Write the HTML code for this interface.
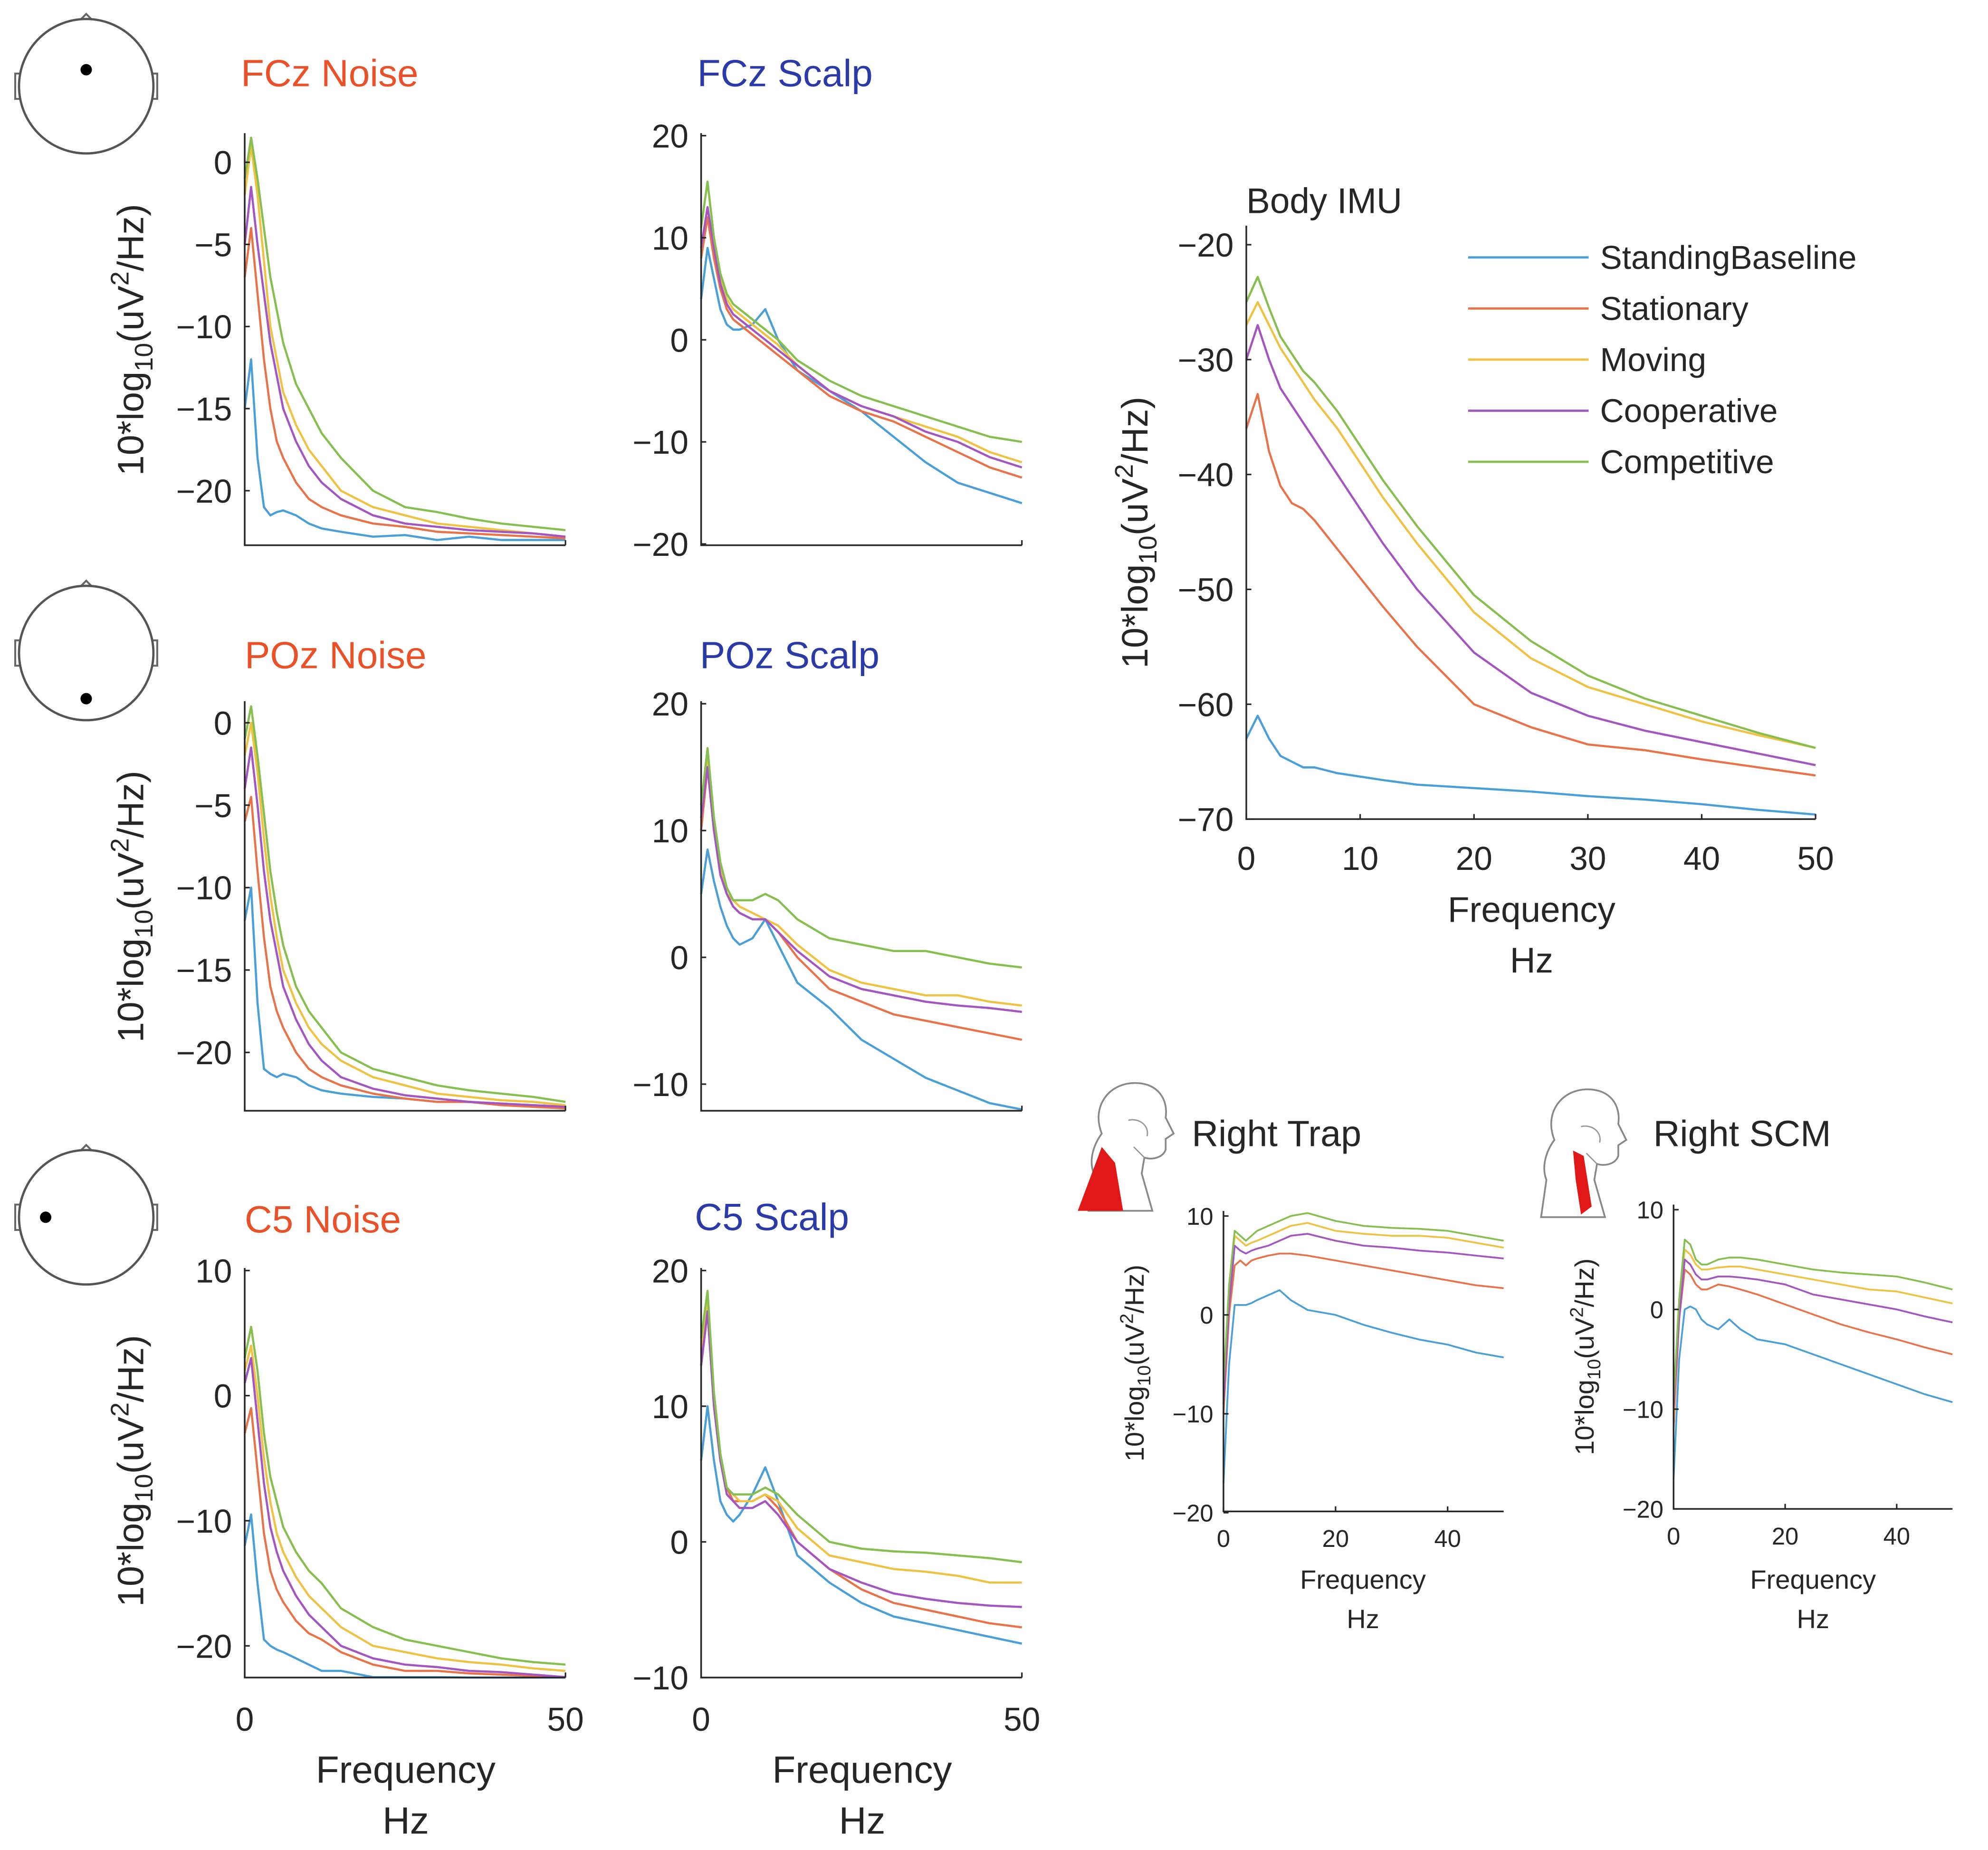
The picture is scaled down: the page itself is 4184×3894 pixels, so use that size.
<!DOCTYPE html>
<html><head><meta charset="utf-8">
<style>
html,body{margin:0;padding:0;background:#fff;}
svg{display:block;}
text{font-family:"Liberation Sans",Arial,sans-serif;fill:#262626;}
</style></head>
<body>
<svg id="fig" width="4184" height="3894" viewBox="0 0 1568 1459" preserveAspectRatio="none" xmlns="http://www.w3.org/2000/svg"></svg>
<script>
// ---- shared data ----
const freqs = [0,1,2,3,4,5,6,8,10,12,15,20,25,30,35,40,45,50];
const conditions = ["StandingBaseline","Stationary","Moving","Cooperative","Competitive"];
const colors = ["#4a9fd8","#e8734a","#efc244","#a356bf","#86bf4f"];

const fczNoiseBlue   = [-15,-12,-18,-21,-21.5,-21.3,-21.2,-21.5,-22,-22.3,-22.5,-22.8,-22.7,-23,-22.8,-23,-23,-23];
const fczNoiseOrange = [-7,-4,-8,-12,-15,-17,-18,-19.5,-20.5,-21,-21.5,-22,-22.2,-22.5,-22.6,-22.7,-22.8,-22.9];
const fczNoiseYellow = [-2,1,-2,-6,-10,-12,-14,-16,-17.5,-18.5,-20,-21,-21.5,-22,-22.2,-22.4,-22.6,-22.8];
const fczNoisePurple = [-5,-1.5,-5,-8,-11,-13,-15,-17,-18.5,-19.5,-20.5,-21.5,-22,-22.2,-22.4,-22.5,-22.6,-22.8];
const fczNoiseGreen  = [-1,1.5,-1,-4,-7,-9,-11,-13.5,-15,-16.5,-18,-20,-21,-21.3,-21.7,-22,-22.2,-22.4];

const fczScalpBlue   = [4,9,6,3,1.5,1,1,1.5,3,0,-3,-5,-7,-9.5,-12,-14,-15,-16];
const fczScalpOrange = [8,12,8,5,3,2,1.5,0.5,-0.5,-1.5,-3,-5.5,-7,-8,-9.5,-11,-12.5,-13.5];
const fczScalpYellow = [9,13,9,6,4,3,2.5,1.5,0.5,-0.5,-2.5,-5,-6.5,-7.5,-8.5,-9.5,-11,-12];
const fczScalpPurple = [9,13,9,5.5,3.5,2.5,2,1,0,-1,-2.5,-5,-6.5,-7.5,-9,-10,-11.5,-12.5];
const fczScalpGreen  = [11,15.5,10,6.5,4.5,3.5,3,2,1,0,-2,-4,-5.5,-6.5,-7.5,-8.5,-9.5,-10];

const pozNoiseBlue   = [-12,-10,-17,-21,-21.3,-21.5,-21.3,-21.5,-22,-22.3,-22.5,-22.7,-22.8,-23,-23,-23.2,-23.2,-23.3];
const pozNoiseOrange = [-6,-4.5,-9,-13,-16,-17.5,-18.5,-20,-21,-21.5,-22,-22.5,-22.8,-23,-23,-23.2,-23.3,-23.4];
const pozNoiseYellow = [-2,0,-3,-7,-10.5,-13,-15,-17,-18.5,-19.5,-20.5,-21.5,-22,-22.5,-22.7,-22.9,-23,-23.2];
const pozNoisePurple = [-4,-1.5,-5,-9,-12,-14,-16,-18,-19.5,-20.5,-21.5,-22.2,-22.6,-22.8,-23,-23.1,-23.2,-23.3];
const pozNoiseGreen  = [-1,1,-2,-5.5,-9,-11.5,-13.5,-16,-17.5,-18.5,-20,-21,-21.5,-22,-22.3,-22.5,-22.7,-23];

const pozScalpBlue   = [5,8.5,6,4,2.5,1.5,1,1.5,3,1,-2,-4,-6.5,-8,-9.5,-10.5,-11.5,-12];
const pozScalpOrange = [10,15,10,7,5,4,3.5,3,3,2,0,-2.5,-3.5,-4.5,-5,-5.5,-6,-6.5];
const pozScalpYellow = [12,15.5,10,7,5,4.5,4,3.5,3,2.5,1,-1,-2,-2.5,-3,-3,-3.5,-3.8];
const pozScalpPurple = [11,15,10,6.5,5,4,3.5,3,3,2,0.5,-1.5,-2.5,-3,-3.5,-3.8,-4,-4.3];
const pozScalpGreen  = [12,16.5,11,7.5,5.5,4.5,4.5,4.5,5,4.5,3,1.5,1,0.5,0.5,0,-0.5,-0.8];

const c5NoiseBlue   = [-12,-9.5,-15,-19.5,-20,-20.3,-20.5,-21,-21.5,-22,-22,-22.5,-22.5,-22.5,-22.6,-22.7,-22.8,-22.8];
const c5NoiseOrange = [-3,-1,-6,-11,-14,-15.5,-16.5,-18,-19,-19.5,-20.5,-21.5,-22,-22,-22.2,-22.3,-22.4,-22.5];
const c5NoiseYellow = [2,4,0,-5,-8.5,-11,-12.5,-14.5,-16,-17,-18.5,-20,-20.5,-21,-21.3,-21.5,-21.8,-22];
const c5NoisePurple = [1,3,-2,-7,-10.5,-12.5,-14,-16,-17.5,-18.5,-20,-21,-21.5,-21.7,-22,-22.1,-22.3,-22.5];
const c5NoiseGreen  = [3,5.5,2,-3,-6.5,-8.5,-10.5,-12.5,-14,-15,-17,-18.5,-19.5,-20,-20.5,-21,-21.3,-21.5];

const c5ScalpBlue   = [6,10,6,3,2,1.5,2,3.5,5.5,3,-1,-3,-4.5,-5.5,-6,-6.5,-7,-7.5];
const c5ScalpOrange = [13,17,10,6,4,3,3,3,3.5,2.5,0,-2,-3.5,-4.5,-5,-5.5,-6,-6.3];
const c5ScalpYellow = [14,18,10,6,4,3.5,3,3,3.5,3,1,-1,-1.5,-2,-2.2,-2.5,-3,-3];
const c5ScalpPurple = [13,17,10,6,3.5,3,2.5,2.5,3,2,0,-2,-3,-3.8,-4.2,-4.5,-4.7,-4.8];
const c5ScalpGreen  = [15,18.5,11,6.5,4,3.5,3.5,3.5,4,3.5,2,0,-0.5,-0.7,-0.8,-1,-1.2,-1.5];

const imuBlue   = [-63,-61,-63,-64.5,-65,-65.5,-65.5,-66,-66.3,-66.6,-67,-67.3,-67.6,-68,-68.3,-68.7,-69.2,-69.6];
const imuOrange = [-36,-33,-38,-41,-42.5,-43,-44,-46.5,-49,-51.5,-55,-60,-62,-63.5,-64,-64.8,-65.5,-66.2];
const imuYellow = [-27,-25,-27,-29,-30.5,-32,-33.5,-36,-39,-42,-46,-52,-56,-58.5,-60,-61.5,-62.7,-63.8];
const imuPurple = [-30,-27,-30,-32.5,-34,-35.5,-37,-40,-43,-46,-50,-55.5,-59,-61,-62.3,-63.3,-64.3,-65.3];
const imuGreen  = [-25,-22.8,-25.5,-28,-29.5,-31,-32,-34.5,-37.5,-40.5,-44.5,-50.5,-54.5,-57.5,-59.5,-61,-62.5,-63.8];

const trapBlue   = [-17,-5,1,1,1,1.2,1.5,2,2.5,1.5,0.5,0,-1,-1.8,-2.5,-3,-3.8,-4.3];
const trapOrange = [-10,0,5,5.5,5,5.5,5.7,6,6.2,6.2,6,5.5,5,4.5,4,3.5,3,2.7];
const trapYellow = [-8,2,8,7.5,7,7.3,7.5,8,8.5,9,9.3,8.5,8.2,8,8,7.8,7.3,6.8];
const trapPurple = [-9,1,7,6.5,6.2,6.5,6.7,7,7.5,8,8.2,7.5,7,6.8,6.5,6.3,6,5.7];
const trapGreen  = [-7,3,8.5,8,7.5,8,8.5,9,9.5,10,10.3,9.5,9,8.8,8.7,8.5,8,7.5];

const scmBlue   = [-17,-5,0,0.3,0,-1,-1.5,-2,-1,-2,-3,-3.5,-4.5,-5.5,-6.5,-7.5,-8.5,-9.3];
const scmOrange = [-12,-1,4,3.5,2.5,2,2,2.5,2.3,2,1.5,0.5,-0.5,-1.5,-2.3,-3,-3.8,-4.5];
const scmYellow = [-11,0,6,5.5,4.5,4,4,4.2,4.3,4.3,4,3.5,3,2.5,2,1.8,1.2,0.6];
const scmPurple = [-10,-1,5,4.5,3.5,3,3,3.3,3.3,3.2,3,2.5,1.5,1,0.5,0,-0.7,-1.3];
const scmGreen  = [-9,1,7,6.5,5,4.5,4.5,5,5.2,5.2,5,4.5,4,3.7,3.5,3.3,2.7,2];

const noiseTicks = [0,-5,-10,-15,-20];
const scalpTicks = [20,10,0,-10,-20];
const pozScalpTicks = [20,10,0,-10];
const c5NoiseTicks = [10,0,-10,-20];
const c5ScalpTicks = [20,10,0,-10];
const imuYTicks = [-20,-30,-40,-50,-60,-70];
const imuXTicks = [0,10,20,30,40,50];
const emgYTicks = [10,0,-10,-20];
const emgXTicks = [0,20,40];
const eegXTicks = [0,50];

// ---- drawing ----
const NS = "http://www.w3.org/2000/svg";
const svg = document.getElementById("fig");
function mk(tag, attrs, parent){
  const e = document.createElementNS(NS, tag);
  for (const k in attrs) e.setAttribute(k, attrs[k]);
  (parent||svg).appendChild(e);
  return e;
}
function txt(s, x, y, size, anchor, color, parent){
  const t = mk("text", {x:x, y:y, "font-size":size, "text-anchor":anchor||"start"}, parent);
  if (color) t.setAttribute("style","fill:"+color);
  t.textContent = s;
  return t;
}
function ylabel(g, cx, cy, size){
  const t = mk("text", {x:0, y:0, "font-size":size, "text-anchor":"middle",
    transform:"translate("+cx+","+cy+") rotate(-90)"}, g);
  
  
  const a = mk("tspan",{},t); a.textContent = "10*log";
  const b = mk("tspan",{"font-size":size*0.7, dy:size*0.25},t); b.textContent = "10";
  const c = mk("tspan",{dy:-size*0.25},t); c.textContent = "(uV";
  const d = mk("tspan",{"font-size":size*0.7, dy:-size*0.4},t); d.textContent = "2";
  const e = mk("tspan",{dy:size*0.4},t); e.textContent = "/Hz)";
}

function panel(o){
  const g = mk("g", {});
  
  
  const sx = f => o.x0 + (f - 0) / 50 * (o.x1 - o.x0);
  const sy = v => o.yref0 + (v - o.vref0) * (o.yref1 - o.yref0) / (o.vref1 - o.vref0);
  o.series.forEach((arr, i) => {
    const pts = freqs.map((f, j) => sx(f).toFixed(2) + "," + Math.max(o.top, Math.min(o.bottom, sy(arr[j]))).toFixed(2)).join(" ");
    const pl = mk("polyline", {points:pts, fill:"none", stroke:colors[i], "stroke-width":o.lw||1.7, "stroke-linejoin":"round"}, g);
    
    
  });
  const ax = mk("path", {d:"M"+o.x0+","+o.top+" V"+o.bottom+" H"+o.x1, fill:"none", stroke:"#262626", "stroke-width":1.3}, g);
  
  
  o.yTicks.forEach(v => {
    const y = sy(v);
    mk("line",{x1:o.x0, x2:o.x0+4, y1:y, y2:y, stroke:"#262626","stroke-width":1.2}, g);
    const t = txt(String(v).replace("-","\u2212"), o.x0 - o.tickGap, y + o.tickSize*0.36, o.tickSize, "end", null, g);
    
    
  });
  (o.xTicks||[]).forEach(f => {
    const x = sx(f);
    mk("line",{x1:x, x2:x, y1:o.bottom, y2:o.bottom-4, stroke:"#262626","stroke-width":1.2}, g);
    if (o.showXLabels){
      const t = txt(String(f), x, o.bottom + o.xLabelDy, o.tickSize, "middle", null, g);
      
      
    }
  });
  if (o.title){
    const t = txt(o.title, o.titleX, o.titleY, o.titleSize, "start", o.titleColor, g);
    
    
  }
  if (o.ylab) ylabel(g, o.ylab[0], o.ylab[1], o.ylab[2]);
  if (o.xlab){
    const a = txt("Frequency", o.xlab[0], o.xlab[1], o.xlab[3], "middle", null, g);
    
    
    const b = txt("Hz", o.xlab[0], o.xlab[2], o.xlab[3], "middle", null, g);
    
    
  }
  return g;
}

const RED = "#ea5128", BLUE = "#2a3aa8";
panel({name:"fcz-noise-panel", x0:193,x1:446, top:105,bottom:430, yref0:128,vref0:0,yref1:387,vref1:-20,
  series:[fczNoiseBlue,fczNoiseOrange,fczNoiseYellow,fczNoisePurple,fczNoiseGreen],
  yTicks:noiseTicks, xTicks:eegXTicks, tickSize:26, tickGap:10,
  title:"FCz Noise", titleX:190, titleY:68, titleSize:30, titleColor:RED, ylab:[113,268,29]});
panel({name:"fcz-scalp-panel", x0:553,x1:806, top:105,bottom:430, yref0:107,vref0:20,yref1:429,vref1:-20,
  series:[fczScalpBlue,fczScalpOrange,fczScalpYellow,fczScalpPurple,fczScalpGreen],
  yTicks:scalpTicks, xTicks:eegXTicks, tickSize:26, tickGap:10,
  title:"FCz Scalp", titleX:550, titleY:68, titleSize:30, titleColor:BLUE});
panel({name:"poz-noise-panel", x0:193,x1:446, top:553,bottom:876, yref0:570,vref0:0,yref1:830,vref1:-20,
  series:[pozNoiseBlue,pozNoiseOrange,pozNoiseYellow,pozNoisePurple,pozNoiseGreen],
  yTicks:noiseTicks, xTicks:eegXTicks, tickSize:26, tickGap:10,
  title:"POz Noise", titleX:193, titleY:527, titleSize:30, titleColor:RED, ylab:[113,715,29]});
panel({name:"poz-scalp-panel", x0:553,x1:806, top:553,bottom:876, yref0:555,vref0:20,yref1:855,vref1:-10,
  series:[pozScalpBlue,pozScalpOrange,pozScalpYellow,pozScalpPurple,pozScalpGreen],
  yTicks:pozScalpTicks, xTicks:eegXTicks, tickSize:26, tickGap:10,
  title:"POz Scalp", titleX:552, titleY:527, titleSize:30, titleColor:BLUE});
panel({name:"c5-noise-panel", x0:193,x1:446, top:1000,bottom:1323, yref0:1002,vref0:10,yref1:1298,vref1:-20,
  series:[c5NoiseBlue,c5NoiseOrange,c5NoiseYellow,c5NoisePurple,c5NoiseGreen],
  yTicks:c5NoiseTicks, xTicks:eegXTicks, showXLabels:true, xLabelDy:42, tickSize:26, tickGap:10,
  title:"C5 Noise", titleX:193, titleY:972, titleSize:30, titleColor:RED, ylab:[113,1160,29],
  xlab:[320,1406,1446,30]});
panel({name:"c5-scalp-panel", x0:553,x1:806, top:1000,bottom:1323, yref0:1002,vref0:20,yref1:1323,vref1:-10,
  series:[c5ScalpBlue,c5ScalpOrange,c5ScalpYellow,c5ScalpPurple,c5ScalpGreen],
  yTicks:c5ScalpTicks, xTicks:eegXTicks, showXLabels:true, xLabelDy:42, tickSize:26, tickGap:10,
  title:"C5 Scalp", titleX:548, titleY:970, titleSize:30, titleColor:BLUE,
  xlab:[680,1406,1446,30]});
panel({name:"body-imu-panel", x0:983,x1:1432, top:178,bottom:646, yref0:193,vref0:-20,yref1:646,vref1:-70,
  series:[imuBlue,imuOrange,imuYellow,imuPurple,imuGreen],
  yTicks:imuYTicks, xTicks:imuXTicks, showXLabels:true, xLabelDy:40, tickSize:26, tickGap:10,
  title:"Body IMU", titleX:983, titleY:168, titleSize:28, ylab:[905,420,29],
  xlab:[1208,727,767,28]});
panel({name:"right-trap-panel", x0:965,x1:1186, top:955,bottom:1192, yref0:959,vref0:10,yref1:1193,vref1:-20,
  series:[trapBlue,trapOrange,trapYellow,trapPurple,trapGreen], lw:1.4,
  yTicks:emgYTicks, xTicks:emgXTicks, showXLabels:true, xLabelDy:28, tickSize:19, tickGap:8,
  title:"Right Trap", titleX:940, titleY:904, titleSize:29, ylab:[902,1075,21],
  xlab:[1075,1253,1284,21]});
panel({name:"right-scm-panel", x0:1320,x1:1540, top:950,bottom:1190, yref0:954,vref0:10,yref1:1190,vref1:-20,
  series:[scmBlue,scmOrange,scmYellow,scmPurple,scmGreen], lw:1.4,
  yTicks:emgYTicks, xTicks:emgXTicks, showXLabels:true, xLabelDy:28, tickSize:19, tickGap:8,
  title:"Right SCM", titleX:1304, titleY:904, titleSize:29, ylab:[1257,1070,21],
  xlab:[1430,1253,1284,21]});

const lg = mk("g",{});


conditions.forEach((c,i)=>{
  const y = 203 + i*40.3;
  const e = mk("g",{},lg);
  
  
  mk("line",{x1:1158,x2:1253,y1:y,y2:y,stroke:colors[i],"stroke-width":1.8},e);
  txt(c,1262,y+9,26,"start",null,e);
});

function head(cy, dx, dy, name){
  const g = mk("g",{});
  
  
  mk("path",{d:`M61,${cy-50} L68,${cy-57} L75,${cy-50}`,fill:"#fff",stroke:"#666","stroke-width":1.5},g);
  mk("rect",{x:12,y:cy-10,width:6,height:20,fill:"#fff",stroke:"#666","stroke-width":1.5},g);
  mk("rect",{x:118,y:cy-10,width:6,height:20,fill:"#fff",stroke:"#666","stroke-width":1.5},g);
  mk("circle",{cx:68,cy:cy,r:53,fill:"#fff",stroke:"#555","stroke-width":1.8},g);
  mk("circle",{cx:dx,cy:dy,r:4.5,fill:"#000"},g);
}
head(68,68,55,"fcz-head-icon");
head(515,68,551,"poz-head-icon");
head(960,36,960,"c5-head-icon");

function neck(x, y, name, trap){
  const g = mk("g",{transform:`translate(${x},${y}) scale(1.05)`});
  
  
  mk("path",{d:"M20,40 C12,20 25,2 45,2 C62,2 70,14 68,28 L74,40 L68,44 L68,52 C66,58 58,60 52,58 L50,70 L58,98 L10,98 L14,70 C10,60 14,48 20,40 Z",fill:"#fff",stroke:"#888","stroke-width":1.3},g);
  if (trap) mk("path",{d:"M20,50 L30,62 L36,98 L2,98 Z",fill:"#e01818"},g);
  else mk("path",{d:"M34,48 L42,52 L48,90 L40,96 L36,70 Z",fill:"#e01818"},g);
  mk("path",{d:"M40,30 C48,28 56,34 54,42 M52,58 L44,50",fill:"none",stroke:"#999","stroke-width":1},g);
}
neck(848,852,"trap-muscle-icon",true);
neck(1205,857,"scm-muscle-icon",false);
</script>
</body></html>
